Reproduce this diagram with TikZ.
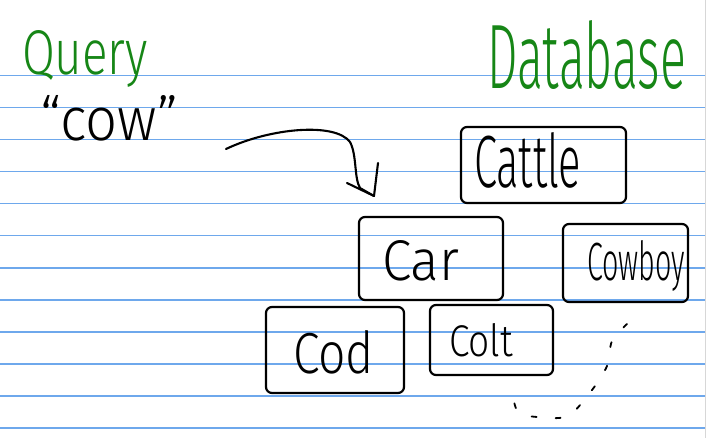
\documentclass[tikz,border=0pt]{standalone}
\usepackage{fontspec}
\setmainfont{Fira Sans}[UprightFont=* Light]
\usepackage{graphicx}
\definecolor{inkgreen}{RGB}{22,134,22}
\definecolor{paperrule}{HTML}{6EA8EC}
\definecolor{edgegray}{RGB}{215,215,215}
\tikzset{
  hw/.style={inner sep=0pt, outer sep=0pt},
  hwgreen/.style={hw, text=inkgreen},
  wordbox/.style={draw=black, line width=2.2pt, rounded corners=6pt, rectangle, inner sep=0pt},
  pen/.style={draw=black, line width=2.1pt, line cap=round, line join=round},
  dotpen/.style={draw=black, line width=1.8pt, line cap=round, dash pattern=on 5pt off 19pt}
}
\newcommand{\hwtext}[3]{\resizebox{#1pt}{#2pt}{#3}}
\begin{document}
\begin{tikzpicture}[x=1pt,y=-1pt]
\useasboundingbox (0,0) rectangle (706,438);
\fill[white] (0,0) rectangle (706,438);
% ruled paper
\fill[paperrule] (0,74.9) rectangle (705,76.5);
\fill[paperrule] (0,106.9) rectangle (705,108.5);
\fill[paperrule] (0,138.9) rectangle (705,140.5);
\fill[paperrule] (0,170.9) rectangle (705,172.5);
\fill[paperrule] (0,202.9) rectangle (705,204.5);
\fill[paperrule] (0,234.9) rectangle (705,236.5);
\fill[paperrule] (0,266.9) rectangle (705,268.5);
\fill[paperrule] (0,298.9) rectangle (705,300.5);
\fill[paperrule] (0,330.9) rectangle (705,332.5);
\fill[paperrule] (0,362.9) rectangle (705,364.5);
\fill[paperrule] (0,394.9) rectangle (705,396.5);
\fill[paperrule] (0,426.9) rectangle (705,428.5);
\fill[edgegray] (705,0) rectangle (706,438);

% headings
\node[hwgreen, anchor=base west] (query) at (22,75) {\hwtext{126}{44}{Query}};
\node[hwgreen, anchor=base west] (database) at (487,89) {\hwtext{199}{68}{Database}};
\node[hw, anchor=base west] (cow) at (40,141) {\hwtext{138}{45}{“cow”}};

% boxes
\node[wordbox, minimum width=165pt, minimum height=76pt] (cattlebox) at (543.5,165) {};
\node[wordbox, minimum width=144pt, minimum height=83pt] (carbox) at (431,258.5) {};
\node[wordbox, minimum width=125pt, minimum height=78pt] (cowboybox) at (625.5,263) {};
\node[wordbox, minimum width=138pt, minimum height=86pt] (codbox) at (335,350) {};
\node[wordbox, minimum width=123pt, minimum height=70pt] (coltbox) at (491.5,340) {};

% words
\node[hw, anchor=base west] (cattle) at (474,188) {\hwtext{107}{55}{Cattle}};
\node[hw, anchor=base west] (car) at (382,280) {\hwtext{77}{40}{Car}};
\node[hw, anchor=base west] (cowboy) at (587,280) {\hwtext{98}{40}{Cowboy}};
\node[hw, anchor=base west] (cod) at (293,373) {\hwtext{81}{43}{Cod}};
\node[hw, anchor=base west] (colt) at (449,356) {\hwtext{64}{33}{Colt}};

% curved arrow
\coordinate (astart) at (226,149);
\coordinate (atip) at (374,196);
\coordinate (aleft) at (347,183);
\coordinate (aright) at (378,163);
\draw[pen] (astart) .. controls (270,128) and (335,122) .. (350,142)
  .. controls (357,155) and (354,178) .. (360,188) -- (atip);
\draw[pen] (aleft) -- (atip) -- (aright);

% dashed continuation
\coordinate (d1) at (627,324);
\coordinate (d2) at (512,392);
\draw[dotpen] plot[smooth] coordinates {(d1) (612,341) (607,366) (592,390) (568,416) (537,417) (518,412) (d2)};
\end{tikzpicture}
\end{document}
